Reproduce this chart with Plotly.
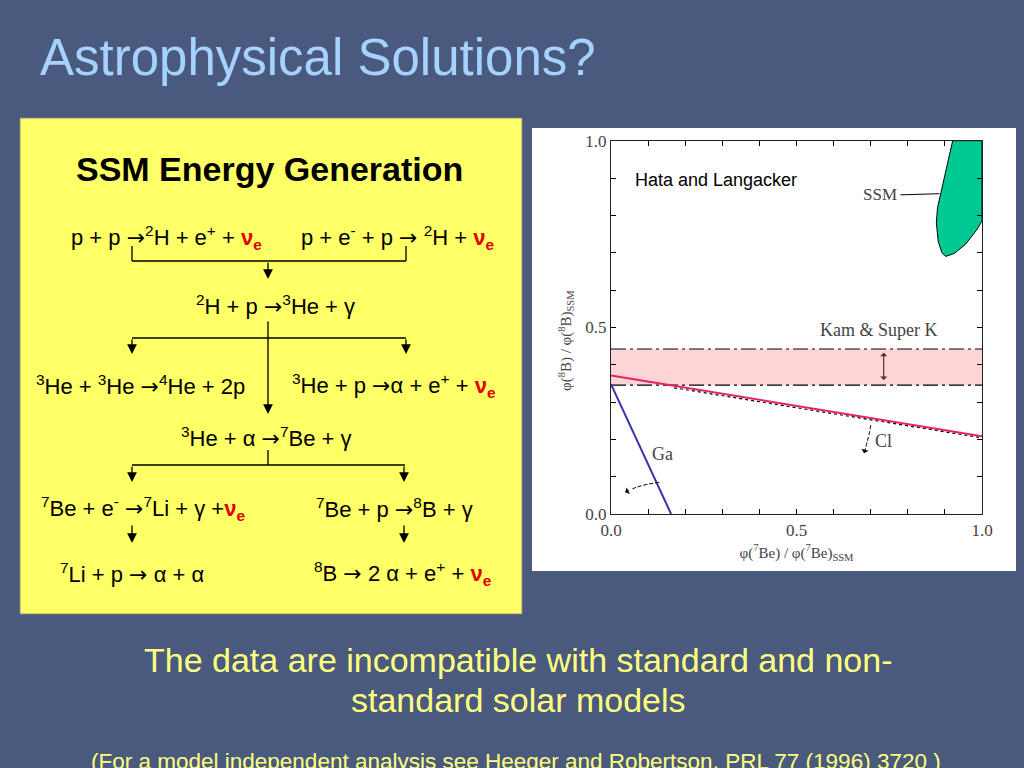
import plotly.graph_objects as go

# ---------------- data ----------------
tick_vals = [0.0, 0.1, 0.2, 0.3, 0.4, 0.5, 0.6, 0.7, 0.8, 0.9, 1.0]
tick_text = ["0.0", "", "", "", "", "0.5", "", "", "", "", "1.0"]

kam_x = [0.0, 1.0]
kam_low = [0.345, 0.345]
kam_high = [0.442, 0.442]

cl_x = [0.0, 1.0]
cl_y = [0.371, 0.208]
cl_dot_x = [0.17, 1.0]
cl_dot_y = [0.338, 0.204]

ga_x = [0.0, 0.162]
ga_y = [0.348, 0.0]

ssm_x = [0.921, 0.905, 0.890, 0.880, 0.877, 0.882, 0.892, 0.902, 0.925, 0.955, 0.985, 1.0, 1.0, 0.921]
ssm_y = [1.0, 0.93, 0.87, 0.82, 0.78, 0.73, 0.70, 0.690, 0.698, 0.722, 0.760, 0.785, 1.0, 1.0]

ssm_lbl_x = [0.78, 0.885]
ssm_lbl_y = [0.855, 0.858]

# dashed "allowed direction" arrows
ga_arr_x = [0.130, 0.100, 0.070, 0.052]
ga_arr_y = [0.085, 0.080, 0.072, 0.065]
cl_arr_x = [0.700, 0.696, 0.691, 0.687]
cl_arr_y = [0.238, 0.215, 0.195, 0.180]

AR = "<span style='font-family:DejaVu Sans'>→</span>"
NU = "<span style='color:#e00000'><b>ν<sub>e</sub></b></span>"
reactions = [
    "p + p " + AR + "<sup>2</sup>H + e<sup>+</sup> + " + NU,
    "p + e<sup>-</sup> + p " + AR + " <sup>2</sup>H + " + NU,
    "<sup>2</sup>H + p " + AR + "<sup>3</sup>He + γ",
    "<sup>3</sup>He + <sup>3</sup>He " + AR + "<sup>4</sup>He + 2p",
    "<sup>3</sup>He + p " + AR + "α + e<sup>+</sup> + " + NU,
    "<sup>3</sup>He + α " + AR + "<sup>7</sup>Be + γ",
    "<sup>7</sup>Be + e<sup>-</sup> " + AR + "<sup>7</sup>Li + γ +" + NU,
    "<sup>7</sup>Be + p " + AR + "<sup>8</sup>B + γ",
    "<sup>7</sup>Li + p " + AR + " α + α",
    "<sup>8</sup>B " + AR + " 2 α + e<sup>+</sup> + " + NU,
]
reaction_pos = [(166, 238), (397, 238), (275, 305), (140, 385), (394, 385),
                (266, 437), (143, 508), (394, 508), (132, 573), (403, 573)]

W, H = 1024, 768
BG = "#4a5a7e"
SERIF = "Liberation Serif, Times New Roman, serif"
SANS = "Liberation Sans, Arial, sans-serif"
GREY = "#444444"


def px(x):
    return x / W


def py(y):
    return 1 - y / H


fig = go.Figure()

# Kamiokande band
fig.add_trace(go.Scatter(x=kam_x, y=kam_low, mode="lines",
                         line=dict(color="black", width=1.2, dash="15px,4px,3px,4px"),
                         hoverinfo="skip"))
fig.add_trace(go.Scatter(x=kam_x, y=kam_high, mode="lines", fill="tonexty",
                         fillcolor="rgba(255,210,210,0.95)",
                         line=dict(color="black", width=1.2, dash="15px,4px,3px,4px"),
                         hoverinfo="skip"))
# Cl lines
fig.add_trace(go.Scatter(x=cl_dot_x, y=cl_dot_y, mode="lines",
                         line=dict(color="black", width=1.2, dash="dot"), hoverinfo="skip"))
fig.add_trace(go.Scatter(x=cl_x, y=cl_y, mode="lines",
                         line=dict(color="#e8206a", width=2), hoverinfo="skip"))
# Ga line
fig.add_trace(go.Scatter(x=ga_x, y=ga_y, mode="lines",
                         line=dict(color="#3535a8", width=2), hoverinfo="skip"))
# SSM region
fig.add_trace(go.Scatter(x=ssm_x, y=ssm_y, mode="lines", fill="toself",
                         fillcolor="#00c994", line=dict(color="black", width=1),
                         hoverinfo="skip"))
fig.add_trace(go.Scatter(x=ssm_lbl_x, y=ssm_lbl_y, mode="lines",
                         line=dict(color="black", width=1), hoverinfo="skip"))
# dashed arrow shafts
fig.add_trace(go.Scatter(x=ga_arr_x, y=ga_arr_y, mode="lines", line_shape="spline",
                         line=dict(color="black", width=1, dash="4px,2px"), hoverinfo="skip"))
fig.add_trace(go.Scatter(x=cl_arr_x, y=cl_arr_y, mode="lines", line_shape="spline",
                         line=dict(color="black", width=1, dash="4px,2px"), hoverinfo="skip"))

shapes = []
# yellow box
shapes.append(dict(type="rect", xref="paper", yref="paper", x0=px(20), x1=px(522),
                   y0=py(614), y1=py(118), fillcolor="#ffff66",
                   line=dict(color="#8a8a70", width=1), layer="below"))
# white panel
shapes.append(dict(type="rect", xref="paper", yref="paper", x0=px(532), x1=px(1016),
                   y0=py(571), y1=py(128), fillcolor="white",
                   line=dict(width=0), layer="below"))


def seg(x0, y0, x1, y1):
    shapes.append(dict(type="line", xref="paper", yref="paper",
                       x0=px(x0), y0=py(y0), x1=px(x1), y1=py(y1),
                       line=dict(color="black", width=1.3)))


# flowchart connector lines
seg(132, 246, 132, 261)
seg(406, 246, 406, 261)
seg(132, 261, 406, 261)
seg(132, 338, 406, 338)
seg(268, 450, 268, 465)
seg(132, 465, 405, 465)

annotations = []


def arrow(x, y_tail, y_tip):
    annotations.append(dict(xref="paper", yref="paper", x=px(x), y=py(y_tip),
                            ax=0, ay=-(y_tip - y_tail), text="", showarrow=True,
                            arrowhead=2, arrowsize=1.5, arrowwidth=1.3,
                            arrowcolor="black"))


arrow(268, 261, 279)
arrow(268, 320, 414)
arrow(132, 338, 354)
arrow(406, 338, 354)
arrow(132, 465, 482)
arrow(404, 465, 482)
arrow(132, 524, 543)
arrow(404, 524, 543)

# slide texts
annotations.append(dict(xref="paper", yref="paper", x=px(38), y=py(57),
                        xanchor="left", yanchor="middle", showarrow=False,
                        text="Astrophysical Solutions?",
                        font=dict(family=SANS, size=51, color="#a6d2ff")))
annotations.append(dict(xref="paper", yref="paper", x=px(269), y=py(169),
                        xanchor="center", yanchor="middle", showarrow=False,
                        text="<b>SSM Energy Generation</b>",
                        font=dict(family=SANS, size=34, color="black")))
for txt, (cx, cy) in zip(reactions, reaction_pos):
    annotations.append(dict(xref="paper", yref="paper", x=px(cx), y=py(cy),
                            xanchor="center", yanchor="middle", showarrow=False,
                            text=txt, font=dict(family=SANS, size=22, color="black")))

annotations.append(dict(xref="paper", yref="paper", x=px(518), y=py(660),
                        xanchor="center", yanchor="middle", showarrow=False,
                        text="The data are incompatible with standard and non-",
                        font=dict(family=SANS, size=34, color="#ffff80")))
annotations.append(dict(xref="paper", yref="paper", x=px(518), y=py(700),
                        xanchor="center", yanchor="middle", showarrow=False,
                        text="standard solar models",
                        font=dict(family=SANS, size=34, color="#ffff80")))
annotations.append(dict(xref="paper", yref="paper", x=px(516), y=py(761),
                        xanchor="center", yanchor="middle", showarrow=False,
                        text="(For a model independent analysis see Heeger and Robertson, PRL 77 (1996) 3720 )",
                        font=dict(family=SANS, size=22.5, color="#ffff80")))

# y-axis title placed to match the reference
annotations.append(dict(xref="paper", yref="paper", x=px(566), y=py(341),
                        xanchor="center", yanchor="middle", showarrow=False,
                        textangle=-90,
                        text="φ(<sup>8</sup>B) / φ(<sup>8</sup>B)<sub>SSM</sub>",
                        font=dict(family=SERIF, size=15, color=GREY)))

# chart texts
annotations.append(dict(xref="x", yref="y", x=0.058, y=0.896, xanchor="left",
                        yanchor="middle", showarrow=False, text="Hata and Langacker",
                        font=dict(family=SANS, size=18, color="black")))
annotations.append(dict(xref="x", yref="y", x=0.775, y=0.855, xanchor="right",
                        yanchor="middle", showarrow=False, text="SSM",
                        font=dict(family=SERIF, size=17, color=GREY)))
annotations.append(dict(xref="x", yref="y", x=0.72, y=0.494, xanchor="center",
                        yanchor="middle", showarrow=False, text="Kam &amp; Super K",
                        font=dict(family=SERIF, size=18, color=GREY)))
annotations.append(dict(xref="x", yref="y", x=0.705, y=0.196, xanchor="left",
                        yanchor="middle", showarrow=False, text="Cl",
                        font=dict(family=SERIF, size=18, color=GREY)))
annotations.append(dict(xref="x", yref="y", x=0.14, y=0.162, xanchor="center",
                        yanchor="middle", showarrow=False, text="Ga",
                        font=dict(family=SERIF, size=18, color=GREY)))
# chart arrowheads
annotations.append(dict(xref="x", yref="y", axref="x", ayref="y", x=0.038, y=0.058,
                        ax=ga_arr_x[-1], ay=ga_arr_y[-1], text="", showarrow=True,
                        arrowhead=1, arrowwidth=1, arrowsize=1.2, arrowcolor="black"))
annotations.append(dict(xref="x", yref="y", axref="x", ayref="y", x=0.682, y=0.163,
                        ax=cl_arr_x[-1], ay=cl_arr_y[-1], text="", showarrow=True,
                        arrowhead=1, arrowwidth=1, arrowsize=1.2, arrowcolor="black"))
annotations.append(dict(xref="x", yref="y", axref="x", ayref="y", x=0.735, y=0.432,
                        ax=0.735, ay=0.355, text="", showarrow=True, arrowhead=1,
                        arrowside="end+start", arrowwidth=1.2, arrowcolor="#5a2a2a"))

axis_common = dict(range=[0, 1], tickvals=tick_vals, ticktext=tick_text,
                   ticks="inside", ticklen=5, tickwidth=1, tickcolor="black",
                   showline=True, linecolor="#222222", linewidth=1.2, mirror="ticks",
                   showgrid=False, zeroline=False,
                   tickfont=dict(family=SERIF, size=17, color=GREY))

fig.update_layout(
    autosize=True,
    margin=dict(l=0, r=0, t=0, b=0, autoexpand=False),
    paper_bgcolor=BG, plot_bgcolor="white",
    showlegend=False,
    shapes=shapes, annotations=annotations,
    xaxis=dict(domain=[px(611), px(982)],
               title=dict(text="φ(<sup>7</sup>Be) / φ(<sup>7</sup>Be)<sub>SSM</sub>",
                          font=dict(family=SERIF, size=15, color=GREY), standoff=8),
               **axis_common),
    yaxis=dict(domain=[py(514), py(140.7)], **axis_common),
)

fig.write_html(
    "out.html",
    default_width="100vw",
    default_height="100vh",
    config={"displayModeBar": False, "responsive": True},
    post_script="document.body.style.margin='0px';document.body.style.overflow='hidden';",
)
